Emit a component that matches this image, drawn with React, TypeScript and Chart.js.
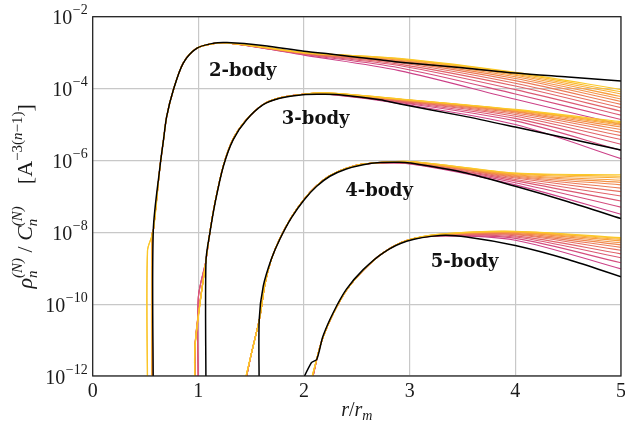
import React, { useEffect, useRef } from "react";
import { Chart, registerables } from "chart.js";
Chart.register(...registerables);

// ---------- axes / labels ----------
const X_TICKS = [0, 1, 2, 3, 4, 5];
const Y_EXPONENTS = [-12, -10, -8, -6, -4, -2];
const BODY_LABELS = ["2-body", "3-body", "4-body", "5-body"];
const LABEL_X = [1.1, 1.79, 2.39, 3.2];
const LABEL_LOGY = [-3.51, -4.85, -6.86, -8.83];
const FLOOR = -12.5; // curves start below the axis floor

// colours of the fan of curves (lowest -> highest)
const CURVE_COLORS = [
  "#cc4188", "#d44c7e", "#db5874", "#e1636a", "#e66e60", "#eb7a57",
  "#f0864e", "#f49246", "#f79e3e", "#faac36", "#fbbb2e", "#fbc927",
];

// ---------- 2-body (log10 values) ----------
const black2X = [0.573, 0.573, 0.637, 0.67, 0.7, 0.763, 0.857, 0.984, 1.14, 1.27, 1.61, 2.0, 2.245, 2.72, 2.91, 3.5, 4.0, 4.5, 5.0];
const black2Y = [FLOOR, -7.97, -6.17, -5.43, -4.78, -4.04, -3.29, -2.88, -2.74, -2.72, -2.8, -2.96, -3.04, -3.2, -3.27, -3.42, -3.57, -3.68, -3.79];
const start2X = [0.561, 0.561, 0.561, 0.561, 0.561, 0.56, 0.56, 0.56, 0.559, 0.558, 0.52, 0.517];
const start2Y = [-8.05, -8.05, -8.05, -8.05, -8.05, -8.05, -8.05, -8.05, -8.05, -8.05, -8.5, -8.53];
const rise2X = [0.573, 0.637, 0.67, 0.7, 0.763, 0.857, 0.984, 1.14, 1.27];
const rise2Y = [-7.97, -6.17, -5.43, -4.78, -4.04, -3.29, -2.88, -2.75, -2.73];
const tail2X = [1.6, 2.0, 2.9, 4.0, 5.0];
const tail2Y = [
  [-2.87, -3.07, -3.5, -4.3, -5.0],
  [-2.87, -3.05, -3.42, -4.15, -4.86],
  [-2.86, -3.04, -3.36, -4.03, -4.74],
  [-2.86, -3.03, -3.32, -3.93, -4.63],
  [-2.86, -3.02, -3.28, -3.85, -4.53],
  [-2.85, -3.02, -3.25, -3.78, -4.44],
  [-2.85, -3.01, -3.23, -3.72, -4.36],
  [-2.85, -3.01, -3.21, -3.67, -4.29],
  [-2.85, -3.0, -3.19, -3.63, -4.22],
  [-2.84, -3.0, -3.18, -3.6, -4.15],
  [-2.84, -3.0, -3.17, -3.57, -4.09],
  [-2.84, -3.0, -3.16, -3.55, -4.03],
];

// ---------- 3-body ----------
const black3X = [1.072, 1.072, 1.11, 1.157, 1.236, 1.33, 1.457, 1.614, 1.77, 1.99, 2.2, 2.4, 2.72, 2.91, 3.5, 4.0, 4.5, 5.0];
const black3Y = [FLOOR, -8.8, -8.0, -7.2, -6.17, -5.42, -4.87, -4.45, -4.27, -4.17, -4.16, -4.19, -4.31, -4.43, -4.76, -5.07, -5.39, -5.71];
const start3X = [1.0, 1.0, 0.999, 0.975, 0.972, 0.97, 0.97, 0.969, 0.969, 0.968, 0.968, 0.968];
const start3Y = [-9.8, -9.8, -9.85, -10.9, -11.0, -11.05, -11.1, -11.1, -11.15, -11.15, -11.2, -11.2];
const rise3X = [1.072, 1.11, 1.157, 1.236, 1.33, 1.457, 1.614, 1.77, 1.99];
const rise3Y = [-8.78, -7.98, -7.18, -6.15, -5.4, -4.86, -4.44, -4.26, -4.16];
const tail3X = [2.2, 2.91, 4.0, 5.0];
const tail3Y = [
  [-4.15, -4.42, -5.0, -5.95],
  [-4.15, -4.39, -4.9, -5.72],
  [-4.14, -4.37, -4.83, -5.55],
  [-4.14, -4.35, -4.77, -5.42],
  [-4.14, -4.34, -4.72, -5.31],
  [-4.13, -4.33, -4.68, -5.22],
  [-4.13, -4.32, -4.65, -5.14],
  [-4.13, -4.31, -4.63, -5.07],
  [-4.12, -4.3, -4.61, -5.02],
  [-4.12, -4.3, -4.6, -4.98],
  [-4.12, -4.29, -4.59, -4.95],
  [-4.12, -4.29, -4.58, -4.92],
];

// ---------- 4-body ----------
const black4X = [1.576, 1.576, 1.614, 1.69, 1.77, 1.88, 2.0, 2.12, 2.245, 2.4, 2.56, 2.72, 2.9, 3.0, 3.5, 4.0, 4.5, 5.0];
const black4Y = [FLOOR, -10.42, -9.5, -8.75, -8.2, -7.6, -7.1, -6.72, -6.44, -6.24, -6.12, -6.06, -6.05, -6.07, -6.33, -6.72, -7.15, -7.62];
const start4X = [1.425, 1.424, 1.423, 1.422, 1.421, 1.42, 1.418, 1.416, 1.414, 1.412, 1.411, 1.41];
const rise4X = [1.5, 1.583, 1.63, 1.69, 1.77, 1.88, 2.0, 2.12, 2.245, 2.4, 2.56];
const rise4Y = [-11.4, -10.35, -9.45, -8.76, -8.18, -7.58, -7.08, -6.7, -6.42, -6.22, -6.1];
const tail4X = [3.0, 4.0, 5.0];
const tail4Y = [
  [-6.1, -6.68, -7.5],
  [-6.09, -6.62, -7.3],
  [-6.08, -6.57, -7.13],
  [-6.07, -6.53, -6.99],
  [-6.06, -6.49, -6.87],
  [-6.06, -6.46, -6.77],
  [-6.05, -6.44, -6.68],
  [-6.05, -6.42, -6.61],
  [-6.04, -6.4, -6.55],
  [-6.04, -6.38, -6.49],
  [-6.03, -6.36, -6.44],
  [-6.03, -6.35, -6.4],
];

// ---------- 5-body ----------
const black5X = [1.925, 2.07, 2.12, 2.18, 2.276, 2.4, 2.56, 2.75, 2.97, 3.29, 3.54, 4.0, 4.5, 5.0];
const black5Y = [FLOOR, -11.63, -11.54, -10.89, -10.24, -9.59, -9.04, -8.57, -8.25, -8.09, -8.13, -8.37, -8.76, -9.24];
const start5X = [2.05, 2.049, 2.048, 2.047, 2.046, 2.045, 2.043, 2.041, 2.039, 2.037, 2.035, 2.032];
const rise5X = [2.14, 2.18, 2.276, 2.4, 2.56, 2.75, 2.97];
const rise5Y = [-11.3, -10.92, -10.27, -9.62, -9.06, -8.57, -8.23];
const tail5X = [3.29, 4.0, 5.0];
const tail5Y = [
  [-8.1, -8.22, -9.02],
  [-8.1, -8.17, -8.85],
  [-8.09, -8.13, -8.71],
  [-8.09, -8.1, -8.6],
  [-8.08, -8.07, -8.5],
  [-8.08, -8.05, -8.42],
  [-8.07, -8.03, -8.35],
  [-8.07, -8.01, -8.29],
  [-8.06, -8.0, -8.24],
  [-8.06, -7.99, -8.2],
  [-8.05, -7.98, -8.17],
  [-8.05, -7.97, -8.15],
];

// ---------- helpers ----------
const pts = (xs: number[], ys: number[]) => xs.map((x, i) => ({ x, y: Math.pow(10, ys[i]) }));

function fan(
  startX: number[],
  startY: number[] | null,
  riseX: number[],
  riseY: number[],
  tailX: number[],
  tailY: number[][]
) {
  return tailY.map((tail, k) => {
    const head = [{ x: startX[k], y: Math.pow(10, FLOOR) }];
    if (startY) head.push({ x: startX[k], y: Math.pow(10, startY[k]) });
    return [...head, ...pts(riseX, riseY), ...pts(tailX, tail)];
  });
}

function buildDatasets() {
  const groups = [
    { black: pts(black2X, black2Y), fan: fan(start2X, start2Y, rise2X, rise2Y, tail2X, tail2Y) },
    { black: pts(black3X, black3Y), fan: fan(start3X, start3Y, rise3X, rise3Y, tail3X, tail3Y) },
    { black: pts(black4X, black4Y), fan: fan(start4X, null, rise4X, rise4Y, tail4X, tail4Y) },
    { black: pts(black5X, black5Y), fan: fan(start5X, null, rise5X, rise5Y, tail5X, tail5Y) },
  ];
  const ds: any[] = [];
  groups.forEach((g) => {
    g.fan.forEach((data, k) => {
      ds.push({
        data,
        borderColor: CURVE_COLORS[k],
        borderWidth: 1.1,
        order: 20 - k,
        tension: 0.3,
        pointRadius: 0,
        fill: false,
      });
    });
    ds.push({ data: g.black, borderColor: "#000000", borderWidth: 1.5, order: 0, tension: 0.3, pointRadius: 0, fill: false });
  });
  return ds;
}

const SERIF = "'Liberation Serif', 'DejaVu Serif', serif";

type Run = { t: string; font: string; dy?: number; stack?: { t: string; font: string; dy: number }[] };

function drawRuns(ctx: CanvasRenderingContext2D, runs: Run[], x0: number, y0: number, center: boolean) {
  const widths = runs.map((r) => {
    if (r.stack) {
      return Math.max(...r.stack.map((s) => { ctx.font = s.font; return ctx.measureText(s.t).width; }));
    }
    ctx.font = r.font;
    return ctx.measureText(r.t).width;
  });
  const total = widths.reduce((a, b) => a + b, 0);
  let x = center ? x0 - total / 2 : x0;
  runs.forEach((r, i) => {
    if (r.stack) {
      r.stack.forEach((s) => { ctx.font = s.font; ctx.fillText(s.t, x, y0 + s.dy); });
    } else {
      ctx.font = r.font;
      ctx.fillText(r.t, x, y0 + (r.dy || 0));
    }
    x += widths[i];
  });
}

const decor = {
  id: "decor",
  afterDraw(chart: any) {
    const { ctx, chartArea: a, scales } = chart;
    const xs = scales.x;
    const ys = scales.y;
    ctx.save();
    // spines
    ctx.strokeStyle = "#1a1a1a";
    ctx.lineWidth = 1.2;
    ctx.strokeRect(a.left, a.top, a.right - a.left, a.bottom - a.top);

    ctx.fillStyle = "#1a1a1a";
    ctx.textBaseline = "alphabetic";
    ctx.textAlign = "left";
    // y tick labels 10^e
    Y_EXPONENTS.forEach((e) => {
      const y = ys.getPixelForValue(Math.pow(10, e));
      const sup = "\u2212" + String(-e);
      ctx.font = `14px ${SERIF}`;
      const ws = ctx.measureText(sup).width;
      ctx.font = `20px ${SERIF}`;
      const wb = ctx.measureText("10").width;
      const right = a.left - 5;
      ctx.font = `20px ${SERIF}`;
      ctx.fillText("10", right - ws - wb - 0.5, y + 7.5);
      ctx.font = `14px ${SERIF}`;
      ctx.fillText(sup, right - ws, y - 2.5);
    });
    // x tick labels
    ctx.textAlign = "center";
    ctx.font = `20px ${SERIF}`;
    X_TICKS.forEach((v) => {
      ctx.fillText(String(v), xs.getPixelForValue(v), a.bottom + 21);
    });
    ctx.textAlign = "left";

    // x title r/r_m
    const it = `italic 20px ${SERIF}`;
    const rm = `20px ${SERIF}`;
    drawRuns(
      ctx,
      [
        { t: "r", font: it },
        { t: "/", font: rm },
        { t: "r", font: it },
        { t: "m", font: `italic 14px ${SERIF}`, dy: 4 },
      ],
      (a.left + a.right) / 2,
      a.bottom + 40,
      true
    );

    // y title (rotated)
    ctx.save();
    ctx.translate(32, (a.top + a.bottom) / 2);
    ctx.rotate(-Math.PI / 2);
    const big = `italic 22px ${SERIF}`;
    const small = `italic 15px ${SERIF}`;
    const up = `22px ${SERIF}`;
    const sup = `15px ${SERIF}`;
    drawRuns(
      ctx,
      [
        { t: "\u03c1", font: big },
        { t: "", font: small, stack: [{ t: "n", font: small, dy: 5 }, { t: "(N)", font: small, dy: -10 }] },
        { t: " / ", font: up },
        { t: "C", font: big },
        { t: "", font: small, stack: [{ t: "n", font: small, dy: 5 }, { t: "(N)", font: small, dy: -10 }] },
        { t: "    [", font: up },
        { t: "A", font: up },
        { t: "\u22123(", font: sup, dy: -10 },
        { t: "n", font: small, dy: -10 },
        { t: "\u22121)", font: sup, dy: -10 },
        { t: "]", font: up },
      ],
      0,
      0,
      true
    );
    ctx.restore();

    // body labels
    ctx.font = `bold 18px 'DejaVu Serif', serif`;
    ctx.textBaseline = "middle";
    ctx.fillStyle = "#111111";
    BODY_LABELS.forEach((t, i) => {
      ctx.fillText(t, xs.getPixelForValue(LABEL_X[i]), ys.getPixelForValue(Math.pow(10, LABEL_LOGY[i])));
    });
    ctx.restore();
  },
};

export default function App() {
  const ref = useRef<HTMLCanvasElement | null>(null);
  useEffect(() => {
    document.body.style.margin = "0";
    const chart = new Chart(ref.current as HTMLCanvasElement, {
      type: "line",
      data: { datasets: buildDatasets() },
      options: {
        animation: false,
        responsive: true,
        maintainAspectRatio: false,
        events: [],
        parsing: true,
        layout: { padding: { left: 0, right: 4, top: 16.7, bottom: 0 } },
        plugins: { legend: { display: false }, tooltip: { enabled: false } },
        scales: {
          x: {
            type: "linear",
            min: 0,
            max: 5,
            afterBuildTicks: (s: any) => { s.ticks = X_TICKS.map((v) => ({ value: v })); },
            ticks: { display: false },
            grid: { color: "#c8c8c8", lineWidth: 1.2, drawTicks: false },
            border: { display: false },
            afterFit: (s: any) => { s.height = 49; },
          },
          y: {
            type: "logarithmic",
            min: 1e-12,
            max: 1e-2,
            afterBuildTicks: (s: any) => { s.ticks = Y_EXPONENTS.map((e) => ({ value: Math.pow(10, e) })); },
            ticks: { display: false },
            grid: { color: "#c8c8c8", lineWidth: 1.2, drawTicks: false },
            border: { display: false },
            afterFit: (s: any) => { s.width = 92.7; },
          },
        },
      } as any,
      plugins: [decor],
    });
    return () => chart.destroy();
  }, []);
  return (
    <div style={{ position: "fixed", left: 0, top: 0, width: 625, height: 425, background: "#fff" }}>
      <canvas ref={ref} />
    </div>
  );
}
